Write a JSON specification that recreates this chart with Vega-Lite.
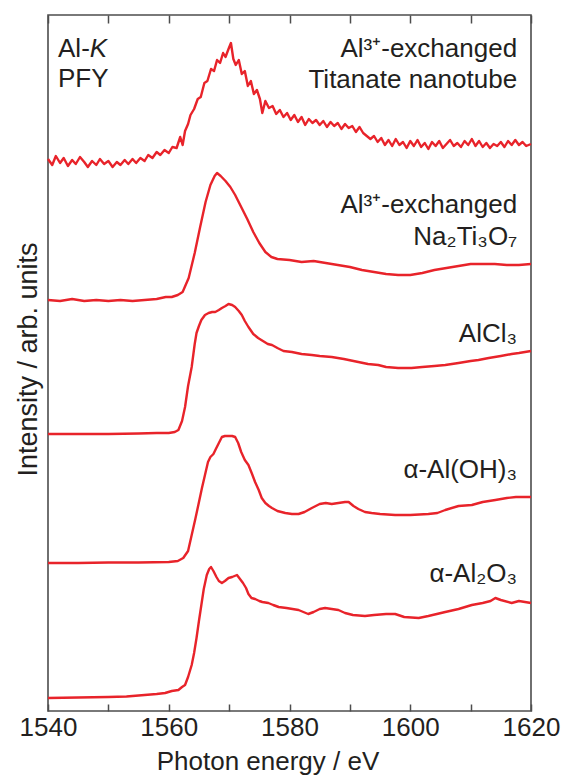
{
  "$schema": "https://vega.github.io/schema/vega-lite/v6.json",
  "width": 483,
  "height": 696,
  "autosize": {"type": "none"},
  "padding": {"left": 48, "top": 15, "right": 34, "bottom": 67},
  "background": "white",
  "config": {
    "font": "Liberation Sans",
    "view": {"stroke": "#4d4d4d", "strokeWidth": 1.6},
    "axis": {"grid": false}
  },
  "datasets": {
    "curves": [
      {"s":"a","E":1540,"v":552},{"s":"a","E":1540.7,"v":546},{"s":"a","E":1541.3,"v":555},{"s":"a","E":1542,"v":548},{"s":"a","E":1542.6,"v":553},{"s":"a","E":1543.3,"v":545},{"s":"a","E":1544,"v":551},{"s":"a","E":1544.6,"v":547},{"s":"a","E":1545.3,"v":554},{"s":"a","E":1546,"v":549},{"s":"a","E":1546.6,"v":544},{"s":"a","E":1547.3,"v":550},{"s":"a","E":1548,"v":546},{"s":"a","E":1548.6,"v":552},{"s":"a","E":1549.3,"v":547},{"s":"a","E":1550,"v":550},{"s":"a","E":1550.7,"v":544},{"s":"a","E":1551.4,"v":549},{"s":"a","E":1552,"v":546},{"s":"a","E":1552.7,"v":551},{"s":"a","E":1553.3,"v":547},{"s":"a","E":1554,"v":552},{"s":"a","E":1554.6,"v":548},{"s":"a","E":1555.3,"v":553},{"s":"a","E":1556,"v":550},{"s":"a","E":1556.6,"v":556},{"s":"a","E":1557.3,"v":553},{"s":"a","E":1558,"v":559},{"s":"a","E":1558.6,"v":556},{"s":"a","E":1559.3,"v":561},{"s":"a","E":1560,"v":558},{"s":"a","E":1560.6,"v":564},{"s":"a","E":1561.3,"v":563},{"s":"a","E":1561.9,"v":574},{"s":"a","E":1562.3,"v":566},{"s":"a","E":1562.7,"v":580},{"s":"a","E":1563.2,"v":587},{"s":"a","E":1563.6,"v":596},{"s":"a","E":1564.2,"v":602},{"s":"a","E":1564.8,"v":612},{"s":"a","E":1565.3,"v":614},{"s":"a","E":1565.9,"v":628},{"s":"a","E":1566.4,"v":630},{"s":"a","E":1567,"v":642},{"s":"a","E":1567.5,"v":640},{"s":"a","E":1568,"v":651},{"s":"a","E":1568.5,"v":648},{"s":"a","E":1569,"v":658},{"s":"a","E":1569.4,"v":654},{"s":"a","E":1569.9,"v":662},{"s":"a","E":1570.3,"v":668},{"s":"a","E":1570.7,"v":652},{"s":"a","E":1571.1,"v":646},{"s":"a","E":1571.6,"v":651},{"s":"a","E":1572.1,"v":637},{"s":"a","E":1572.6,"v":640},{"s":"a","E":1573.1,"v":625},{"s":"a","E":1573.6,"v":630},{"s":"a","E":1574.1,"v":617},{"s":"a","E":1574.6,"v":621},{"s":"a","E":1575.1,"v":612},{"s":"a","E":1575.5,"v":598},{"s":"a","E":1576,"v":610},{"s":"a","E":1576.6,"v":603},{"s":"a","E":1577.2,"v":605},{"s":"a","E":1577.8,"v":597},{"s":"a","E":1578.4,"v":601},{"s":"a","E":1579,"v":594},{"s":"a","E":1579.6,"v":598},{"s":"a","E":1580.2,"v":591},{"s":"a","E":1580.8,"v":596},{"s":"a","E":1581.4,"v":589},{"s":"a","E":1582,"v":594},{"s":"a","E":1582.6,"v":586},{"s":"a","E":1583.2,"v":592},{"s":"a","E":1583.8,"v":588},{"s":"a","E":1584.4,"v":591},{"s":"a","E":1585,"v":586},{"s":"a","E":1585.6,"v":590},{"s":"a","E":1586.2,"v":584},{"s":"a","E":1586.8,"v":589},{"s":"a","E":1587.4,"v":585},{"s":"a","E":1588,"v":588},{"s":"a","E":1588.6,"v":582},{"s":"a","E":1589.2,"v":587},{"s":"a","E":1589.8,"v":583},{"s":"a","E":1590.4,"v":585},{"s":"a","E":1591,"v":579},{"s":"a","E":1591.6,"v":584},{"s":"a","E":1592.2,"v":578},{"s":"a","E":1592.8,"v":575},{"s":"a","E":1593.4,"v":572},{"s":"a","E":1594,"v":575},{"s":"a","E":1594.6,"v":569},{"s":"a","E":1595.2,"v":573},{"s":"a","E":1595.8,"v":566},{"s":"a","E":1596.4,"v":571},{"s":"a","E":1597,"v":565},{"s":"a","E":1597.6,"v":572},{"s":"a","E":1598.2,"v":566},{"s":"a","E":1598.8,"v":569},{"s":"a","E":1599.4,"v":563},{"s":"a","E":1600,"v":570},{"s":"a","E":1600.6,"v":565},{"s":"a","E":1601.2,"v":571},{"s":"a","E":1601.8,"v":564},{"s":"a","E":1602.4,"v":568},{"s":"a","E":1603,"v":562},{"s":"a","E":1603.6,"v":569},{"s":"a","E":1604.2,"v":565},{"s":"a","E":1604.8,"v":570},{"s":"a","E":1605.4,"v":563},{"s":"a","E":1606,"v":567},{"s":"a","E":1606.6,"v":571},{"s":"a","E":1607.2,"v":565},{"s":"a","E":1607.8,"v":568},{"s":"a","E":1608.4,"v":564},{"s":"a","E":1609,"v":570},{"s":"a","E":1609.6,"v":566},{"s":"a","E":1610.2,"v":572},{"s":"a","E":1610.8,"v":565},{"s":"a","E":1611.4,"v":570},{"s":"a","E":1612,"v":564},{"s":"a","E":1612.6,"v":568},{"s":"a","E":1613.2,"v":563},{"s":"a","E":1613.8,"v":567},{"s":"a","E":1614.4,"v":565},{"s":"a","E":1615,"v":569},{"s":"a","E":1615.6,"v":564},{"s":"a","E":1616.2,"v":570},{"s":"a","E":1616.8,"v":566},{"s":"a","E":1617.4,"v":571},{"s":"a","E":1618,"v":566},{"s":"a","E":1618.6,"v":569},{"s":"a","E":1619.2,"v":565},{"s":"a","E":1620,"v":567},

      {"s":"b","E":1540,"v":411},{"s":"b","E":1542,"v":410},{"s":"b","E":1544,"v":412},{"s":"b","E":1546,"v":410},{"s":"b","E":1548,"v":411},{"s":"b","E":1550,"v":410},{"s":"b","E":1552,"v":411},{"s":"b","E":1554,"v":410},{"s":"b","E":1556,"v":411},{"s":"b","E":1558,"v":412},{"s":"b","E":1559.5,"v":414},{"s":"b","E":1560.5,"v":414},{"s":"b","E":1561.5,"v":416},{"s":"b","E":1562.3,"v":419},{"s":"b","E":1563.3,"v":433},{"s":"b","E":1564.3,"v":458},{"s":"b","E":1565.2,"v":484},{"s":"b","E":1566.1,"v":509},{"s":"b","E":1566.9,"v":526},{"s":"b","E":1567.6,"v":535},{"s":"b","E":1568,"v":538},{"s":"b","E":1568.6,"v":535},{"s":"b","E":1569.4,"v":530},{"s":"b","E":1570.2,"v":524},{"s":"b","E":1571,"v":516},{"s":"b","E":1572,"v":504},{"s":"b","E":1573,"v":492},{"s":"b","E":1574,"v":479},{"s":"b","E":1575,"v":468},{"s":"b","E":1576,"v":459},{"s":"b","E":1577,"v":454},{"s":"b","E":1578,"v":452},{"s":"b","E":1580,"v":451},{"s":"b","E":1582,"v":449},{"s":"b","E":1584,"v":450},{"s":"b","E":1586,"v":448},{"s":"b","E":1588,"v":446},{"s":"b","E":1590,"v":444},{"s":"b","E":1592,"v":441},{"s":"b","E":1594,"v":439},{"s":"b","E":1596,"v":437},{"s":"b","E":1598,"v":436},{"s":"b","E":1600,"v":436},{"s":"b","E":1602,"v":438},{"s":"b","E":1604,"v":441},{"s":"b","E":1606,"v":443},{"s":"b","E":1608,"v":445},{"s":"b","E":1610,"v":447},{"s":"b","E":1612,"v":447},{"s":"b","E":1614,"v":447},{"s":"b","E":1616,"v":446},{"s":"b","E":1618,"v":446},{"s":"b","E":1620,"v":447},

      {"s":"c","E":1540,"v":277},{"s":"c","E":1545,"v":277},{"s":"c","E":1550,"v":277},{"s":"c","E":1555,"v":277.5},{"s":"c","E":1558,"v":278},{"s":"c","E":1560,"v":278},{"s":"c","E":1561,"v":279},{"s":"c","E":1561.6,"v":281},{"s":"c","E":1562.2,"v":290},{"s":"c","E":1562.7,"v":304},{"s":"c","E":1563.2,"v":325},{"s":"c","E":1563.8,"v":344},{"s":"c","E":1564.3,"v":367},{"s":"c","E":1564.6,"v":378},{"s":"c","E":1565,"v":385},{"s":"c","E":1565.4,"v":391},{"s":"c","E":1566,"v":396},{"s":"c","E":1566.6,"v":398},{"s":"c","E":1567.2,"v":399},{"s":"c","E":1567.7,"v":399},{"s":"c","E":1568.3,"v":401},{"s":"c","E":1568.8,"v":403},{"s":"c","E":1569.4,"v":405},{"s":"c","E":1569.9,"v":407},{"s":"c","E":1570.5,"v":406},{"s":"c","E":1571,"v":404},{"s":"c","E":1571.6,"v":400},{"s":"c","E":1572.1,"v":396},{"s":"c","E":1572.6,"v":390},{"s":"c","E":1573.2,"v":384},{"s":"c","E":1574,"v":377},{"s":"c","E":1574.8,"v":373},{"s":"c","E":1575.6,"v":370},{"s":"c","E":1576.4,"v":367},{"s":"c","E":1577.1,"v":366},{"s":"c","E":1578,"v":363},{"s":"c","E":1579,"v":360},{"s":"c","E":1580.4,"v":359},{"s":"c","E":1582,"v":357},{"s":"c","E":1583.7,"v":356},{"s":"c","E":1585,"v":355},{"s":"c","E":1587,"v":354},{"s":"c","E":1589,"v":352},{"s":"c","E":1591.4,"v":349},{"s":"c","E":1593,"v":347},{"s":"c","E":1594.7,"v":346},{"s":"c","E":1596,"v":344},{"s":"c","E":1598,"v":343},{"s":"c","E":1600.2,"v":343},{"s":"c","E":1602,"v":344},{"s":"c","E":1604,"v":345},{"s":"c","E":1605.8,"v":346},{"s":"c","E":1608,"v":348},{"s":"c","E":1610,"v":350},{"s":"c","E":1611.3,"v":351},{"s":"c","E":1613,"v":353},{"s":"c","E":1615,"v":355},{"s":"c","E":1616.8,"v":357},{"s":"c","E":1618,"v":358},{"s":"c","E":1620,"v":360},

      {"s":"d","E":1540,"v":148},{"s":"d","E":1545,"v":148},{"s":"d","E":1550,"v":148.5},{"s":"d","E":1555,"v":148.5},{"s":"d","E":1560,"v":149},{"s":"d","E":1561.5,"v":150},{"s":"d","E":1562.4,"v":153},{"s":"d","E":1563.2,"v":160},{"s":"d","E":1563.8,"v":176},{"s":"d","E":1564.4,"v":192},{"s":"d","E":1564.9,"v":206},{"s":"d","E":1565.5,"v":223},{"s":"d","E":1566,"v":236},{"s":"d","E":1566.5,"v":249},{"s":"d","E":1566.9,"v":254},{"s":"d","E":1567.4,"v":257},{"s":"d","E":1567.8,"v":262},{"s":"d","E":1568.3,"v":268},{"s":"d","E":1568.8,"v":274},{"s":"d","E":1569.3,"v":275},{"s":"d","E":1569.9,"v":275},{"s":"d","E":1570.5,"v":275},{"s":"d","E":1571,"v":274},{"s":"d","E":1571.5,"v":268},{"s":"d","E":1572,"v":259},{"s":"d","E":1572.6,"v":251},{"s":"d","E":1573.2,"v":246},{"s":"d","E":1573.8,"v":237},{"s":"d","E":1574.3,"v":229},{"s":"d","E":1574.9,"v":221},{"s":"d","E":1575.4,"v":213},{"s":"d","E":1576,"v":208},{"s":"d","E":1576.6,"v":205},{"s":"d","E":1577.1,"v":203},{"s":"d","E":1578,"v":200},{"s":"d","E":1579.3,"v":198},{"s":"d","E":1580.4,"v":197},{"s":"d","E":1581.5,"v":197},{"s":"d","E":1582.5,"v":199},{"s":"d","E":1583.7,"v":203},{"s":"d","E":1585,"v":207},{"s":"d","E":1586,"v":208},{"s":"d","E":1587,"v":207},{"s":"d","E":1588.1,"v":208},{"s":"d","E":1589.2,"v":209},{"s":"d","E":1589.8,"v":209},{"s":"d","E":1590.6,"v":205},{"s":"d","E":1591.4,"v":202},{"s":"d","E":1592.5,"v":199},{"s":"d","E":1593.6,"v":198},{"s":"d","E":1595,"v":197},{"s":"d","E":1597.5,"v":196},{"s":"d","E":1600,"v":196},{"s":"d","E":1603,"v":197},{"s":"d","E":1604.5,"v":198},{"s":"d","E":1605.8,"v":201},{"s":"d","E":1608,"v":205},{"s":"d","E":1610.2,"v":206},{"s":"d","E":1612,"v":209},{"s":"d","E":1614.1,"v":211},{"s":"d","E":1616,"v":213},{"s":"d","E":1617.5,"v":214},{"s":"d","E":1620,"v":214},

      {"s":"e","E":1540,"v":13},{"s":"e","E":1545,"v":13.5},{"s":"e","E":1550,"v":14},{"s":"e","E":1553,"v":14.5},{"s":"e","E":1556,"v":16},{"s":"e","E":1558,"v":17},{"s":"e","E":1559.4,"v":18},{"s":"e","E":1560.5,"v":20},{"s":"e","E":1561.6,"v":21},{"s":"e","E":1562.2,"v":24},{"s":"e","E":1562.7,"v":26},{"s":"e","E":1563.2,"v":34},{"s":"e","E":1563.8,"v":46},{"s":"e","E":1564.2,"v":58},{"s":"e","E":1564.6,"v":73},{"s":"e","E":1565,"v":90},{"s":"e","E":1565.4,"v":106},{"s":"e","E":1565.8,"v":122},{"s":"e","E":1566.3,"v":136},{"s":"e","E":1566.7,"v":142},{"s":"e","E":1567,"v":144},{"s":"e","E":1567.4,"v":140},{"s":"e","E":1567.9,"v":134},{"s":"e","E":1568.3,"v":130},{"s":"e","E":1568.8,"v":128},{"s":"e","E":1569.3,"v":130},{"s":"e","E":1569.9,"v":133},{"s":"e","E":1570.5,"v":134},{"s":"e","E":1571.3,"v":136},{"s":"e","E":1571.8,"v":132},{"s":"e","E":1572.3,"v":128},{"s":"e","E":1572.8,"v":123},{"s":"e","E":1573.2,"v":117},{"s":"e","E":1573.7,"v":113},{"s":"e","E":1574.3,"v":112},{"s":"e","E":1575,"v":110},{"s":"e","E":1575.5,"v":109},{"s":"e","E":1576.5,"v":108},{"s":"e","E":1577.3,"v":106},{"s":"e","E":1578.2,"v":104},{"s":"e","E":1579.5,"v":103},{"s":"e","E":1580.5,"v":102},{"s":"e","E":1581.5,"v":101},{"s":"e","E":1582.3,"v":99},{"s":"e","E":1583.1,"v":97},{"s":"e","E":1584,"v":99},{"s":"e","E":1585,"v":102},{"s":"e","E":1585.9,"v":103},{"s":"e","E":1587,"v":102},{"s":"e","E":1588.1,"v":101},{"s":"e","E":1589.2,"v":98},{"s":"e","E":1590.5,"v":96},{"s":"e","E":1592.5,"v":95},{"s":"e","E":1594,"v":96},{"s":"e","E":1596,"v":97},{"s":"e","E":1597.5,"v":97},{"s":"e","E":1599,"v":94},{"s":"e","E":1601.4,"v":93},{"s":"e","E":1603,"v":95},{"s":"e","E":1605.8,"v":99},{"s":"e","E":1608,"v":102},{"s":"e","E":1610.2,"v":106},{"s":"e","E":1612,"v":108},{"s":"e","E":1613.3,"v":110},{"s":"e","E":1614.1,"v":113},{"s":"e","E":1615,"v":111},{"s":"e","E":1616.8,"v":108},{"s":"e","E":1618,"v":110},{"s":"e","E":1620,"v":108}
    ],
    "rlabels": [
      {"E":1617.7,"v":654,"t":"Al³⁺-exchanged"},
      {"E":1617.7,"v":623,"t":"Titanate nanotube"},
      {"E":1617.7,"v":498,"t":"Al³⁺-exchanged"},
      {"E":1617.7,"v":466,"t":"Na₂Ti₃O₇"},
      {"E":1617.7,"v":369,"t":"AlCl₃"},
      {"E":1617.7,"v":233,"t":"α-Al(OH)₃"},
      {"E":1617.7,"v":129,"t":"α-Al₂O₃"}
    ],
    "llabels": [
      {"E":1541.66,"v":654,"t":"Al-"},
      {"E":1541.66,"v":624,"t":"PFY"}
    ],
    "ilabels": [
      {"E":1546.92,"v":654,"t":"K"}
    ]
  },
  "resolve": {"axis": {"x": "independent"}},
  "layer": [
    {
      "data": {"name": "curves"},
      "mark": {"type": "line", "color": "#e8232a", "strokeWidth": 2.4, "strokeJoin": "round"},
      "encoding": {
        "x": {
          "field": "E", "type": "quantitative",
          "scale": {"domain": [1540, 1620], "nice": false, "zero": false},
          "axis": {
            "orient": "bottom",
            "values": [1540, 1550, 1560, 1570, 1580, 1590, 1600, 1610, 1620],
            "labelExpr": "datum.value % 20 === 0 ? datum.label : ''",
            "format": "d",
            "domain": false,
            "ticks": true,
            "tickSize": -7,
            "tickColor": "#4d4d4d",
            "tickWidth": 1.5,
            "labelFontSize": 26,
            "labelColor": "#231f20",
            "labelPadding": 10,
            "labelFlush": false,
            "labelOverlap": false,
            "title": "Photon energy / eV",
            "titleFontSize": 26,
            "titleFontWeight": "normal",
            "titleColor": "#231f20",
            "titleX": 219.5,
            "titleY": 58,
            "titleAlign": "center",
            "titleBaseline": "alphabetic"
          }
        },
        "y": {
          "field": "v", "type": "quantitative",
          "scale": {"domain": [0, 696], "nice": false},
          "axis": {
            "orient": "left",
            "domain": false,
            "ticks": false,
            "labels": false,
            "title": "Intensity / arb. units",
            "titleFontSize": 27,
            "titleFontWeight": "normal",
            "titleColor": "#231f20",
            "titleAngle": -90,
            "titleX": -12,
            "titleY": 344,
            "titleAlign": "center",
            "titleBaseline": "alphabetic"
          }
        },
        "detail": {"field": "s"}
      }
    },
    {
      "data": {"name": "rlabels"},
      "mark": {"type": "text", "align": "right", "baseline": "alphabetic", "fontSize": 26, "color": "#231f20"},
      "encoding": {
        "x": {
          "field": "E", "type": "quantitative",
          "axis": {
            "orient": "top",
            "values": [1540, 1550, 1560, 1570, 1580, 1590, 1600, 1610, 1620],
            "labels": false,
            "domain": false,
            "ticks": true,
            "tickSize": -8,
            "tickColor": "#4d4d4d",
            "tickWidth": 1.5,
            "title": null
          }
        },
        "y": {"field": "v", "type": "quantitative"},
        "text": {"field": "t"}
      }
    },
    {
      "data": {"name": "llabels"},
      "mark": {"type": "text", "align": "left", "baseline": "alphabetic", "fontSize": 26, "color": "#231f20"},
      "encoding": {
        "x": {"field": "E", "type": "quantitative", "axis": null},
        "y": {"field": "v", "type": "quantitative"},
        "text": {"field": "t"}
      }
    },
    {
      "data": {"name": "ilabels"},
      "mark": {"type": "text", "align": "left", "baseline": "alphabetic", "fontSize": 26, "fontStyle": "italic", "color": "#231f20"},
      "encoding": {
        "x": {"field": "E", "type": "quantitative", "axis": null},
        "y": {"field": "v", "type": "quantitative"},
        "text": {"field": "t"}
      }
    }
  ]
}
